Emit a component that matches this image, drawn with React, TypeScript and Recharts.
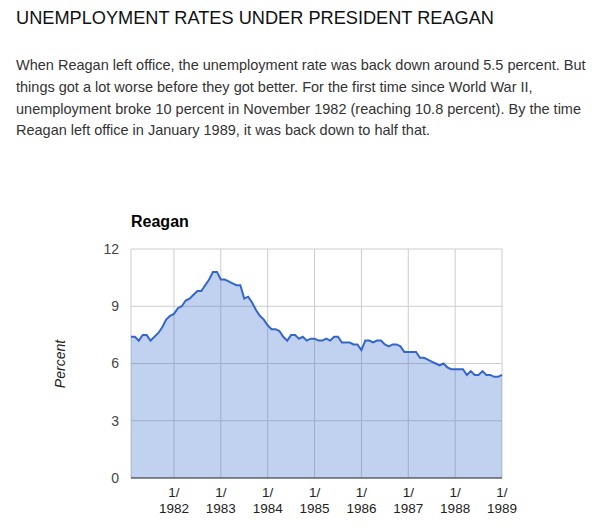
import React from "react";
import { AreaChart, Area, XAxis, YAxis, CartesianGrid } from "recharts";

// Monthly unemployment rate (%), Feb 1981 – Jan 1989
const rates1981 = [7.4, 7.4, 7.2, 7.5, 7.5, 7.2, 7.4, 7.6, 7.9, 8.3, 8.5]; // Feb–Dec
const rates1982 = [8.6, 8.9, 9.0, 9.3, 9.4, 9.6, 9.8, 9.8, 10.1, 10.4, 10.8, 10.8];
const rates1983 = [10.4, 10.4, 10.3, 10.2, 10.1, 10.1, 9.4, 9.5, 9.2, 8.8, 8.5, 8.3];
const rates1984 = [8.0, 7.8, 7.8, 7.7, 7.4, 7.2, 7.5, 7.5, 7.3, 7.4, 7.2, 7.3];
const rates1985 = [7.3, 7.2, 7.2, 7.3, 7.2, 7.4, 7.4, 7.1, 7.1, 7.1, 7.0, 7.0];
const rates1986 = [6.7, 7.2, 7.2, 7.1, 7.2, 7.2, 7.0, 6.9, 7.0, 7.0, 6.9, 6.6];
const rates1987 = [6.6, 6.6, 6.6, 6.3, 6.3, 6.2, 6.1, 6.0, 5.9, 6.0, 5.8, 5.7];
const rates1988 = [5.7, 5.7, 5.7, 5.4, 5.6, 5.4, 5.4, 5.6, 5.4, 5.4, 5.3, 5.3];
const rates1989 = [5.4]; // Jan

const years = [1981, 1982, 1983, 1984, 1985, 1986, 1987, 1988, 1989];
const yearRates = [rates1981, rates1982, rates1983, rates1984, rates1985, rates1986, rates1987, rates1988, rates1989];
const yTicks = [0, 3, 6, 9, 12];

const data: { i: number; year: number; month: number; rate: number }[] = [];
yearRates.forEach((arr, yi) => {
  const firstMonth = yi === 0 ? 2 : 1;
  arr.forEach((rate, k) => {
    data.push({ i: data.length, year: years[yi], month: firstMonth + k, rate });
  });
});
const janTicks = data.filter(d => d.month === 1).map(d => d.i);

const FONT = "'Liberation Sans', Arial, sans-serif";

function YearTick({ x, y, payload }: any) {
  const row = data[payload.value];
  return (
    <text x={x} y={y} textAnchor="middle" fill="#222" fontSize={13.5} fontFamily={FONT}>
      <tspan x={x} dy={19}>1/</tspan>
      <tspan x={x} dy={16}>{row.year}</tspan>
    </text>
  );
}

export default function App() {
  return (
    <div style={{ position: "absolute", left: 0, top: 0, width: 597, height: 532, background: "#fff", overflow: "hidden" }}>
      <div style={{ position: "absolute", left: 16, top: 8, fontFamily: FONT, fontSize: 18.2, color: "#111", whiteSpace: "nowrap" }}>
        UNEMPLOYMENT RATES UNDER PRESIDENT REAGAN
      </div>
      <div style={{ position: "absolute", left: 16, top: 55, width: 580, fontFamily: FONT, fontSize: 14.5, lineHeight: "21.8px", color: "#333" }}>
        When Reagan left office, the unemployment rate was back down around 5.5 percent. But things got a lot worse before they got better. For the first time since World War II, unemployment broke 10 percent in November 1982 (reaching 10.8 percent). By the time Reagan left office in January 1989, it was back down to half that.
      </div>

      <div style={{ position: "absolute", left: 131, top: 213, fontFamily: FONT, fontSize: 16, fontWeight: "bold", color: "#000", whiteSpace: "nowrap" }}>
        Reagan
      </div>
      <div style={{ position: "absolute", left: 60, top: 364, transform: "translate(-50%, -50%) rotate(-90deg)", fontFamily: FONT, fontSize: 14, fontStyle: "italic", color: "#222", whiteSpace: "nowrap" }}>
        Percent
      </div>

      <div style={{ position: "absolute", left: 0, top: 0 }}>
        <AreaChart width={597} height={532} data={data} margin={{ top: 249, right: 95, left: 91, bottom: 0 }}>
          <CartesianGrid stroke="#ccc" strokeWidth={1} />
          <XAxis
            dataKey="i"
            type="number"
            domain={[0, data.length - 1]}
            ticks={janTicks}
            interval={0}
            tick={<YearTick />}
            tickLine={false}
            tickSize={0}
            tickMargin={0}
            axisLine={{ stroke: "#333", strokeWidth: 1 }}
            height={54}
          />
          <YAxis
            type="number"
            domain={[0, 12]}
            ticks={yTicks}
            interval={0}
            width={40}
            tickLine={false}
            tickSize={0}
            tickMargin={12}
            axisLine={false}
            tick={{ fill: "#444", fontSize: 14, fontFamily: FONT }}
          />
          <Area
            type="linear"
            dataKey="rate"
            stroke="#3366cc"
            strokeWidth={2}
            fill="#3366cc"
            fillOpacity={0.3}
            dot={false}
            activeDot={false}
            isAnimationActive={false}
          />
        </AreaChart>
      </div>
    </div>
  );
}
